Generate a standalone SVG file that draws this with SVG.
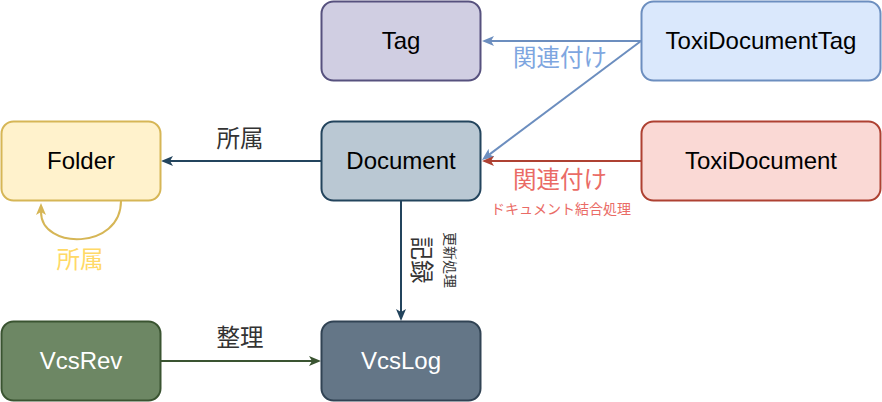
<svg xmlns="http://www.w3.org/2000/svg" width="882" height="402" viewBox="0 0 882 402">
<defs>
<style>
text{font-family:"Liberation Sans","Noto Sans CJK JP",sans-serif;text-anchor:middle}
.n{font-size:24px;fill:#000}
.w{fill:#fff}
.lb{font-size:23.5px}
.sm{font-size:14px}
.e{fill:none;stroke-width:2}
rect{stroke-width:2}
</style>
<marker id="aBlue" viewBox="0 0 12 10" refX="3" refY="5" markerWidth="12" markerHeight="10" markerUnits="userSpaceOnUse" orient="auto"><path d="M0,0 L12,5 L0,10 L3,5 Z" fill="#6c8ebf"/></marker>
<marker id="aRed" viewBox="0 0 12 10" refX="3" refY="5" markerWidth="12" markerHeight="10" markerUnits="userSpaceOnUse" orient="auto"><path d="M0,0 L12,5 L0,10 L3,5 Z" fill="#ae4132"/></marker>
<marker id="aNavy" viewBox="0 0 12 10" refX="3" refY="5" markerWidth="12" markerHeight="10" markerUnits="userSpaceOnUse" orient="auto"><path d="M0,0 L12,5 L0,10 L3,5 Z" fill="#23445d"/></marker>
<marker id="aYel" viewBox="0 0 12 10" refX="3" refY="5" markerWidth="12" markerHeight="10" markerUnits="userSpaceOnUse" orient="auto"><path d="M0,0 L12,5 L0,10 L3,5 Z" fill="#d6b656"/></marker>
<marker id="aGreen" viewBox="0 0 12 10" refX="3" refY="5" markerWidth="12" markerHeight="10" markerUnits="userSpaceOnUse" orient="auto"><path d="M0,0 L12,5 L0,10 L3,5 Z" fill="#3a5431"/></marker>
</defs>
<rect width="882" height="402" fill="#fff"/>
<g id="edges">
<path class="e" d="M641,41 L491,41" stroke="#6c8ebf" marker-end="url(#aBlue)"/>
<path class="e" d="M641,41 L489.2,154.6" stroke="#6c8ebf" marker-end="url(#aBlue)"/>
<path class="e" d="M641,161 L491,161" stroke="#ae4132" marker-end="url(#aRed)"/>
<path class="e" d="M321,161 L170,161" stroke="#23445d" marker-end="url(#aNavy)"/>
<path class="e" d="M121,201 C121,250 41,250 41,212" stroke="#d6b656" marker-end="url(#aYel)"/>
<path class="e" d="M401,201 L401,312" stroke="#23445d" marker-end="url(#aNavy)"/>
<path class="e" d="M161,361 L312,361" stroke="#3a5431" marker-end="url(#aGreen)"/>
<text class="lb" x="560" y="66" fill="#7ea6e0">関連付け</text>
<text class="lb" x="560" y="188" fill="#ea6b66">関連付け</text>
<text class="sm" x="561" y="214" fill="#ea6b66">ドキュメント結合処理</text>
<text class="lb" x="240" y="147" fill="#333">所属</text>
<text class="lb" x="80" y="268" fill="#ffd966">所属</text>
<text class="lb" x="240" y="346" fill="#333">整理</text>
<text class="lb" transform="translate(421,260) rotate(90)" dominant-baseline="central" fill="#333">記録</text>
<text class="sm" transform="translate(450,260) rotate(90)" dominant-baseline="central" fill="#333">更新処理</text>
</g>
<g id="Tag"><rect x="321.5" y="1.5" width="159" height="79" rx="12" fill="#d0cee2" stroke="#56517e"/><text class="n" x="401" y="48.5">Tag</text></g>
<g id="ToxiDocumentTag"><rect x="641.5" y="1.5" width="239" height="79" rx="12" fill="#dae8fc" stroke="#6c8ebf"/><text class="n" x="761" y="48.5">ToxiDocumentTag</text></g>
<g id="Folder"><rect x="1.5" y="121.5" width="159" height="79" rx="12" fill="#fff2cc" stroke="#d6b656"/><text class="n" x="81" y="168.5">Folder</text></g>
<g id="Document"><rect x="321.5" y="121.5" width="159" height="79" rx="12" fill="#bac8d3" stroke="#23445d"/><text class="n" x="401" y="168.5">Document</text></g>
<g id="ToxiDocument"><rect x="641.5" y="121.5" width="239" height="79" rx="12" fill="#fad9d5" stroke="#ae4132"/><text class="n" x="761" y="168.5">ToxiDocument</text></g>
<g id="VcsRev"><rect x="1.5" y="321.5" width="159" height="79" rx="12" fill="#6d8764" stroke="#3a5431"/><text class="n w" x="81" y="368.5">VcsRev</text></g>
<g id="VcsLog"><rect x="321.5" y="321.5" width="159" height="79" rx="12" fill="#647687" stroke="#314354"/><text class="n w" x="401" y="368.5">VcsLog</text></g>
</svg>
